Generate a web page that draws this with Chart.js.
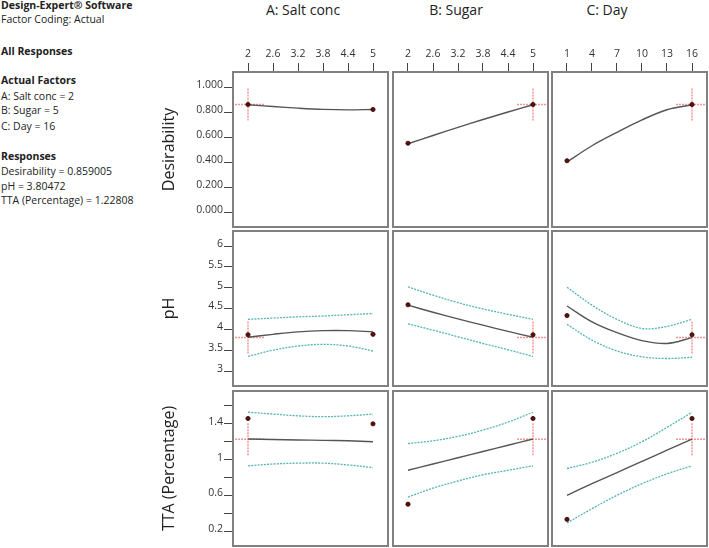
<!DOCTYPE html>
<html>
<head>
<meta charset="utf-8">
<script src="https://cdn.jsdelivr.net/npm/chart.js@4.4.1/dist/chart.umd.min.js"></script>
<style>
body { margin: 0; background: #fff; width: 709px; height: 548px; position: relative; overflow: hidden; font-family: 'Open Sans', sans-serif; color: #222; }
.t { position: absolute; left: 1px; font-size: 10.5px; line-height: 14px; white-space: nowrap; }
.b { font-weight: bold; }
.h { position: absolute; top: 0; width: 160px; font-size: 14px; line-height: 20px; text-align: center; }
.p { position: absolute; }
</style>
</head>
<body>
<div class="t b" style="top:-2px">Design-Expert® Software</div>
<div class="t" style="top:12px">Factor Coding: Actual</div>
<div class="t b" style="top:44px">All Responses</div>
<div class="t b" style="top:73px">Actual Factors</div>
<div class="t" style="top:89px">A: Salt conc = 2</div>
<div class="t" style="top:103px">B: Sugar = 5</div>
<div class="t" style="top:119px">C: Day = 16</div>
<div class="t b" style="top:149px">Responses</div>
<div class="t" style="top:164px">Desirability = 0.859005</div>
<div class="t" style="top:179px">pH = 3.80472</div>
<div class="t" style="top:193px">TTA (Percentage) = 1.22808</div>

<div class="h" style="left:223px">A: Salt conc</div>
<div class="h" style="left:376px">B: Sugar</div>
<div class="h" style="left:527px">C: Day</div>

<script>
// factors (columns) and responses (rows)
var factorNames = ['A: Salt conc', 'B: Sugar', 'C: Day'];
var responseNames = ['Desirability', 'pH', 'TTA (Percentage)'];

var factorTicks = [
    [2, 2.6, 3.2, 3.8, 4.4, 5],
    [2, 2.6, 3.2, 3.8, 4.4, 5],
    [1, 4, 7, 10, 13, 16]
];
var factorTickLabels = [
    ['2', '2.6', '3.2', '3.8', '4.4', '5'],
    ['2', '2.6', '3.2', '3.8', '4.4', '5'],
    ['1', '4', '7', '10', '13', '16']
];
var factorSetting = [2, 5, 16];

var responseTicks = [
    [0, 0.2, 0.4, 0.6, 0.8, 1],
    [3, 3.5, 4, 4.5, 5, 5.5, 6],
    [0.2, 0.4, 0.6, 0.8, 1, 1.2, 1.4, 1.6]
];
var responseTickLabels = [
    ['0.000', '0.200', '0.400', '0.600', '0.800', '1.000'],
    ['3', '3.5', '4', '4.5', '5', '5.5', '6'],
    ['0.2', '', '0.6', '', '1', '', '1.4', '']
];
var responseSetting = [0.859005, 3.80472, 1.22808];

// predicted values read at each factor tick
var desA = [0.858, 0.844, 0.831, 0.821, 0.817, 0.820];
var desB = [0.546, 0.612, 0.677, 0.740, 0.800, 0.858];
var desC = [0.400, 0.530, 0.637, 0.737, 0.818, 0.858];

var phA = [3.81, 3.88, 3.94, 3.97, 3.97, 3.94];
var phAHi = [4.24, 4.27, 4.30, 4.32, 4.35, 4.38];
var phALo = [3.35, 3.50, 3.60, 3.64, 3.60, 3.48];
var phB = [4.58, 4.41, 4.25, 4.10, 3.95, 3.81];
var phBHi = [5.02, 4.82, 4.64, 4.49, 4.36, 4.24];
var phBLo = [4.13, 3.98, 3.82, 3.66, 3.51, 3.35];
var phC = [4.56, 4.18, 3.92, 3.73, 3.66, 3.80];
var phCHi = [5.01, 4.58, 4.24, 4.02, 4.07, 4.24];
var phCLo = [4.12, 3.74, 3.48, 3.34, 3.30, 3.33];

var ttaA = [1.23, 1.225, 1.22, 1.215, 1.21, 1.20];
var ttaAHi = [1.53, 1.51, 1.49, 1.48, 1.49, 1.51];
var ttaALo = [0.93, 0.95, 0.96, 0.96, 0.94, 0.91];
var ttaB = [0.88, 0.95, 1.02, 1.09, 1.16, 1.23];
var ttaBHi = [1.18, 1.21, 1.26, 1.33, 1.42, 1.53];
var ttaBLo = [0.58, 0.68, 0.76, 0.83, 0.88, 0.93];
var ttaC = [0.60, 0.73, 0.855, 0.98, 1.105, 1.23];
var ttaCHi = [0.90, 0.97, 1.07, 1.20, 1.36, 1.53];
var ttaCLo = [0.29, 0.45, 0.60, 0.73, 0.84, 0.93];

// design points at the low and high end of each factor
var desPts = [[0.86, 0.82], [0.55, 0.86], [0.41, 0.86]];
var phPts = [[3.87, 3.88], [4.59, 3.87], [4.33, 3.87]];
var ttaPts = [[1.46, 1.40], [0.50, 1.46], [0.33, 1.46]];

var lines = [
    [[desA], [desB], [desC]],
    [[phA, phAHi, phALo], [phB, phBHi, phBLo], [phC, phCHi, phCLo]],
    [[ttaA, ttaAHi, ttaALo], [ttaB, ttaBHi, ttaBLo], [ttaC, ttaCHi, ttaCLo]]
];
var points = [desPts, phPts, ttaPts];

var tickFont = { family: 'Open Sans', size: 10.5 };
var colLeft = [150, 392, 551];
var rowTop = [31, 230, 390];
var panel = 157;

function pad(arr) {
    var span = arr[arr.length - 1] - arr[0];
    return { min: arr[0] - 0.128 * span, max: arr[arr.length - 1] + 0.128 * span };
}

var panelPlugin = {
    id: 'panel',
    beforeDatasetsDraw: function (chart, args, opts) {
        var ctx = chart.ctx, a = chart.chartArea;
        var px = chart.scales.x.getPixelForValue(opts.cx);
        var py = chart.scales.y.getPixelForValue(opts.cy);
        ctx.save();
        ctx.strokeStyle = 'rgba(238,80,80,0.6)';
        ctx.lineWidth = 1.5;
        ctx.setLineDash([2, 1]);
        ctx.beginPath();
        ctx.moveTo(Math.max(a.left, px - 16), py);
        ctx.lineTo(Math.min(a.right, px + 16), py);
        ctx.moveTo(px, py - 16);
        ctx.lineTo(px, py + 16);
        ctx.stroke();
        ctx.restore();
    },
    afterDraw: function (chart) {
        var ctx = chart.ctx, a = chart.chartArea;
        ctx.save();
        ctx.strokeStyle = '#808080';
        ctx.lineWidth = 2;
        ctx.strokeRect(a.left + 1, a.top + 1, a.width - 2, a.height - 2);
        ctx.restore();
    }
};

function makePanel(row, col) {
    var xt = factorTicks[col], yt = responseTicks[row];
    var xr = pad(xt), yr = pad(yt);
    var showX = row === 0, showY = col === 0;
    var extraLeft = showY ? 82 : 0;
    var extraTop = showX ? 40 : 0;

    var box = document.createElement('div');
    box.className = 'p';
    box.style.left = colLeft[col] + 'px';
    box.style.top = rowTop[row] + 'px';
    box.style.width = (panel + extraLeft) + 'px';
    box.style.height = (panel + extraTop) + 'px';
    var canvas = document.createElement('canvas');
    box.appendChild(canvas);
    document.body.appendChild(box);

    var series = lines[row][col];
    var datasets = [];
    series.forEach(function (vals, i) {
        datasets.push({
            data: xt.map(function (x, j) { return { x: x, y: vals[j] }; }),
            borderColor: i === 0 ? '#555555' : '#55b5b5',
            borderWidth: i === 0 ? 1.4 : 1.3,
            borderDash: i === 0 ? [] : [2, 1.2],
            pointRadius: 0,
            tension: 0.35,
            order: i === 0 ? 1 : 2
        });
    });
    datasets.push({
        data: [
            { x: xt[0], y: points[row][col][0] },
            { x: xt[xt.length - 1], y: points[row][col][1] }
        ],
        showLine: false,
        pointRadius: 2.1,
        pointBackgroundColor: '#5c0f0f',
        pointBorderColor: '#2b0000',
        pointBorderWidth: 0.8,
        order: 0
    });

    new Chart(canvas.getContext('2d'), {
        type: 'line',
        data: { datasets: datasets },
        options: {
            responsive: true,
            maintainAspectRatio: false,
            animation: false,
            events: [],
            layout: { padding: 0, autoPadding: false },
            plugins: {
                legend: { display: false },
                tooltip: { enabled: false },
                panel: { cx: factorSetting[col], cy: responseSetting[row] }
            },
            scales: {
                x: {
                    type: 'linear',
                    position: 'top',
                    display: showX,
                    min: xr.min,
                    max: xr.max,
                    afterBuildTicks: function (s) { s.ticks = xt.map(function (v) { return { value: v }; }); },
                    afterFit: function (s) {
                        s.height = showX ? extraTop : 0;
                        s.paddingLeft = 0;
                        s.paddingRight = 0;
                    },
                    ticks: {
                        autoSkip: false,
                        maxRotation: 0,
                        padding: 3,
                        color: '#333',
                        font: tickFont,
                        callback: function (v, i) { return factorTickLabels[col][i]; }
                    },
                    grid: { drawOnChartArea: false, drawTicks: true, tickLength: 8, color: '#444' },
                    border: { display: false }
                },
                y: {
                    type: 'linear',
                    position: 'left',
                    display: showY,
                    min: yr.min,
                    max: yr.max,
                    afterBuildTicks: function (s) { s.ticks = yt.map(function (v) { return { value: v }; }); },
                    afterFit: function (s) {
                        s.width = showY ? extraLeft : 0;
                        s.paddingTop = 0;
                        s.paddingBottom = 0;
                    },
                    title: {
                        display: true,
                        text: responseNames[row],
                        color: '#222',
                        font: { family: 'Open Sans', size: 16 },
                        padding: { top: 10, bottom: 0 }
                    },
                    ticks: {
                        autoSkip: false,
                        padding: 1,
                        labelOffset: -2,
                        color: '#333',
                        font: tickFont,
                        callback: function (v, i) { return responseTickLabels[row][i]; }
                    },
                    grid: { drawOnChartArea: false, drawTicks: true, tickLength: 8, color: '#444' },
                    border: { display: false }
                }
            }
        },
        plugins: [panelPlugin]
    });
}

for (var r = 0; r < 3; r++) {
    for (var c = 0; c < 3; c++) {
        makePanel(r, c);
    }
}
</script>
</body>
</html>
